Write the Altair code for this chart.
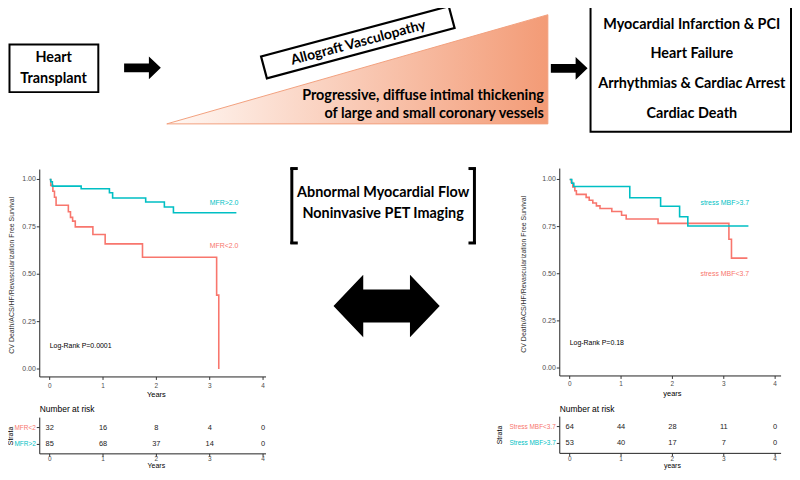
import altair as alt
import pandas as pd

# ---------------- data ----------------
# Left panel: MFR
left_low_t = [0, 0.02, 0.06, 0.09, 0.12, 0.35, 0.39, 0.43, 0.48, 0.81, 1.04, 1.74, 3.13, 3.17]
left_low_s = [1.0, 0.969, 0.938, 0.906, 0.864, 0.83, 0.80, 0.78, 0.75, 0.71, 0.66, 0.59, 0.39, 0.0]
left_high_t = [0, 0.02, 0.05, 0.59, 1.12, 1.18, 1.80, 2.15, 2.32, 3.5]
left_high_s = [1.0, 0.988, 0.965, 0.951, 0.93, 0.902, 0.881, 0.855, 0.824, 0.824]
# Right panel: stress MBF
right_low_t = [0, 0.03, 0.06, 0.10, 0.13, 0.32, 0.38, 0.45, 0.52, 0.59, 0.82, 1.01, 1.10, 1.72, 3.10, 3.15, 3.46]
right_low_s = [1.0, 0.984, 0.96, 0.94, 0.921, 0.905, 0.89, 0.875, 0.86, 0.846, 0.83, 0.81, 0.79, 0.767, 0.683, 0.583, 0.583]
right_high_t = [0, 0.04, 0.08, 1.17, 1.77, 2.14, 2.30, 3.48]
right_high_s = [1.0, 0.98, 0.963, 0.903, 0.858, 0.802, 0.753, 0.753]

risk_years = [0, 1, 2, 3, 4]
left_risk_low = [32, 16, 8, 4, 0]
left_risk_high = [85, 68, 37, 14, 0]
right_risk_low = [64, 44, 28, 11, 0]
right_risk_high = [53, 40, 17, 7, 0]

y_ticks = [0, 0.25, 0.5, 0.75, 1.0]
y_tick_labels = ["0.00", "0.25", "0.50", "0.75", "1.00"]
x_ticks = [0, 1, 2, 3, 4]

RED = "#F8766D"
CYAN = "#00BFC4"
FONT_TOP = "Lato"
FONT_KM = "Liberation Sans"
OFF = 8
W = 790
H = 464
DUMMY = pd.DataFrame({"d": [0]})


def px(v):
    return v - OFF


layers = []


def txt(text, x, y, size, color="black", font=FONT_TOP, weight="bold",
        align="center", baseline="middle", angle=0):
    props = dict(text=text, font=font, fontSize=size, fontWeight=weight,
                 color=color, align=align, baseline=baseline)
    if angle:
        props["angle"] = angle
    return alt.Chart(DUMMY).mark_text(**props).encode(
        x=alt.value(px(x)), y=alt.value(px(y)))


def hrule(x1, x2, y, w=1.0, color="black"):
    return alt.Chart(DUMMY).mark_rule(color=color, strokeWidth=w).encode(
        x=alt.value(px(x1)), x2=alt.value(px(x2)), y=alt.value(px(y)))


def vrule(x, y1, y2, w=1.0, color="black"):
    return alt.Chart(DUMMY).mark_rule(color=color, strokeWidth=w).encode(
        x=alt.value(px(x)), y=alt.value(px(y1)), y2=alt.value(px(y2)))


def box(x1, x2, y1, y2, w=2.0):
    return alt.Chart(DUMMY).mark_rect(fill="white", stroke="black", strokeWidth=w).encode(
        x=alt.value(px(x1)), x2=alt.value(px(x2)), y=alt.value(px(y1)), y2=alt.value(px(y2)))


def symbol(path, x, y, width, angle=0, fill="black", stroke=None, sw=0):
    props = dict(shape=path, size=width * width, filled=True, fill=fill, opacity=1)
    if stroke:
        props.update(stroke=stroke, strokeWidth=sw)
    else:
        props.update(strokeWidth=0)
    if angle:
        props["angle"] = angle
    return alt.Chart(DUMMY).mark_point(**props).encode(
        x=alt.value(px(x)), y=alt.value(px(y)))


# ---------------- top diagram ----------------
ARROW = "M -1 -0.24 L 0.35 -0.24 L 0.35 -0.62 L 1 0 L 0.35 0.62 L 0.35 0.24 L -1 0.24 Z"
DARROW = ("M -1 0 L -0.44 -0.589 L -0.44 -0.31 L 0.44 -0.31 L 0.44 -0.589 L 1 0 "
          "L 0.44 0.589 L 0.44 0.31 L -0.44 0.31 L -0.44 0.589 Z")
RBOX = "M -1 -0.116 L 1 -0.116 L 1 0.116 L -1 0.116 Z"

layers.append(box(9.5, 99, 43, 91))
layers.append(txt("Heart", 54, 57, 14.5))
layers.append(txt("Transplant", 54, 78, 14.5))
layers.append(symbol(ARROW, 143.5, 66.5, 37))

# gradient triangle
tri = pd.DataFrame({"x": [168, 552], "y": [123, 13], "y0": [123, 123]})
canvas_x = alt.Scale(domain=[OFF, OFF + W], range=[0, W])
canvas_y = alt.Scale(domain=[OFF, OFF + H], range=[0, H])
layers.append(
    alt.Chart(tri).mark_area(
        color=alt.Gradient(gradient="linear", x1=0, x2=1, y1=0, y2=0,
                           stops=[alt.GradientStop(color="#FFF8F4", offset=0),
                                  alt.GradientStop(color="#F39B76", offset=1)]),
        stroke="#F2A07E", strokeWidth=1, line=False, opacity=1,
    ).encode(
        x=alt.X("x:Q", scale=canvas_x, axis=None),
        y=alt.Y("y:Q", scale=canvas_y, axis=None),
        y2="y0:Q",
    )
)
layers.append(symbol(RBOX, 360.5, 40.75, 195.8, angle=345, fill="white", stroke="black", sw=2.2))
layers.append(txt("Allograft Vasculopathy", 361, 41.5, 14, angle=345))
layers.append(txt("Progressive, diffuse intimal thickening", 548, 95, 14.5, align="right"))
layers.append(txt("of large and small coronary vessels", 548, 113, 14.5, align="right"))
layers.append(symbol(ARROW, 573.5, 67, 37))
layers.append(box(595, 797, 3.5, 131))
for i, line in enumerate(["Myocardial Infarction & PCI", "Heart Failure",
                          "Arrhythmias & Cardiac Arrest", "Cardiac Death"]):
    layers.append(txt(line, 697, 23 + 30 * i, 14.5))

# middle: bracketed text and double arrow
layers.append(vrule(294, 167, 244, 3))
layers.append(hrule(292.5, 300, 168, 3))
layers.append(hrule(292.5, 300, 243, 3))
layers.append(vrule(478, 167, 244, 3))
layers.append(hrule(472, 479.5, 168, 3))
layers.append(hrule(472, 479.5, 243, 3))
layers.append(txt("Abnormal Myocardial Flow", 386, 193, 14.5))
layers.append(txt("Noninvasive PET Imaging", 386, 214, 14.5))
layers.append(symbol(DARROW, 389.5, 306.5, 107))


# ---------------- KM panels ----------------
def km_panel(P):
    xs = alt.Scale(domain=[0, 4], range=[px(P["x0"]), px(P["x4"])])
    ys = alt.Scale(domain=[0, 1], range=[px(P["y0"]), px(P["y1"])])
    out = []
    ax, top, bot, right = P["ax"], P["top"], P["bot"], P["right"]
    # axis lines
    out.append(vrule(ax, top, bot, 1.0, "#222222"))
    out.append(hrule(ax, right, bot, 1.0, "#222222"))
    yt = pd.DataFrame({"v": y_ticks, "lab": y_tick_labels})
    out.append(alt.Chart(yt).mark_rule(color="#333333", strokeWidth=1).encode(
        y=alt.Y("v:Q", scale=ys, axis=None), x=alt.value(px(ax - 3)), x2=alt.value(px(ax))))
    out.append(alt.Chart(yt).mark_text(align="right", baseline="middle", font=FONT_KM,
                                       fontSize=7, color="#4D4D4D").encode(
        y=alt.Y("v:Q", scale=ys, axis=None), x=alt.value(px(ax - 4)), text="lab:N"))
    xt = pd.DataFrame({"v": x_ticks})
    for (b, lab_y, title_y, title, fs) in [(bot, P["xlab"], P["xtitle"], P["title"], 7.5),
                                           (P["rbot"], P["rxlab"], P["rxtitle"], P["title"], 7)]:
        out.append(alt.Chart(xt).mark_rule(color="#333333", strokeWidth=1).encode(
            x=alt.X("v:Q", scale=xs, axis=None), y=alt.value(px(b)), y2=alt.value(px(b + 3))))
        out.append(alt.Chart(xt).mark_text(baseline="middle", font=FONT_KM, fontSize=6.5,
                                           color="#4D4D4D").encode(
            x=alt.X("v:Q", scale=xs, axis=None), y=alt.value(px(lab_y)), text="v:Q"))
        out.append(txt(title, (P["x0"] + P["x4"]) / 2, title_y, fs, font=FONT_KM,
                       weight="normal"))
    out.append(txt(P["ytitle"], P["ytx"], (top + bot) / 2 + 2, 7, font=FONT_KM,
                   weight="normal", angle=270, color="#333333"))
    # curves
    for t, s, col in [(P["low_t"], P["low_s"], RED), (P["high_t"], P["high_s"], CYAN)]:
        df = pd.DataFrame({"t": t, "s": s})
        out.append(alt.Chart(df).mark_line(interpolate="step-after", color=col,
                                           strokeWidth=1.6).encode(
            x=alt.X("t:Q", scale=xs, axis=None), y=alt.Y("s:Q", scale=ys, axis=None)))
    # labels within plot
    lab = pd.DataFrame({"t": [P["lab_t"], P["lab_t"], 0],
                        "s": [P["lab_high_s"], P["lab_low_s"], P["lr_s"]],
                        "txt": [P["lab_high"], P["lab_low"], P["logrank"]],
                        "c": [CYAN, RED, "black"],
                        "a": ["center", "center", "left"]})
    for i in range(3):
        out.append(alt.Chart(lab.iloc[[i]]).mark_text(
            font=FONT_KM, fontSize=7, color=lab.c[i], align=lab.a[i], baseline="middle").encode(
            x=alt.X("t:Q", scale=xs, axis=None), y=alt.Y("s:Q", scale=ys, axis=None),
            text="txt:N"))
    # risk table
    rtop, rbot = P["rtop"], P["rbot"]
    out.append(txt("Number at risk", ax, P["nar_y"], 8.5, font=FONT_KM, weight="normal",
                   align="left"))
    out.append(vrule(ax, rtop, rbot, 1.0, "#222222"))
    out.append(hrule(ax, right, rbot, 1.0, "#222222"))
    for vals, ry, name, col in [(P["risk_low"], P["row1"], P["strata_low"], RED),
                                (P["risk_high"], P["row2"], P["strata_high"], CYAN)]:
        df = pd.DataFrame({"t": risk_years, "n": vals})
        out.append(alt.Chart(df).mark_text(font=FONT_KM, fontSize=7.5, color="#222222",
                                           baseline="middle").encode(
            x=alt.X("t:Q", scale=xs, axis=None), y=alt.value(px(ry)), text="n:Q"))
        out.append(hrule(ax - 3, ax, ry, 1.0, "#333333"))
        out.append(txt(name, ax - 4, ry, 6.5, color=col, font=FONT_KM, weight="normal",
                       align="right"))
    out.append(txt("Strata", P["stx"], (P["row1"] + P["row2"]) / 2, 7, font=FONT_KM,
                   weight="normal", angle=270))
    return out


LEFT = dict(x0=50, x4=265, y0=370, y1=179, ax=40, top=169, bot=378, right=268,
            xlab=387, xtitle=396, title="Years", ytx=12,
            ytitle="CV Death/ACS/HF/Revascularization Free Survival",
            low_t=left_low_t, low_s=left_low_s, high_t=left_high_t, high_s=left_high_s,
            lab_t=3.27, lab_high_s=0.876, lab_low_s=0.65, lab_high="MFR>2.0",
            lab_low="MFR<2.0", lr_s=0.12, logrank="Log-Rank P=0.0001",
            nar_y=410, rtop=419, rbot=455.5, rxlab=461, rxtitle=468,
            row1=429, row2=446, risk_low=left_risk_low, risk_high=left_risk_high,
            strata_low="MFR<2", strata_high="MFR>2", stx=11.5)
RIGHT = dict(x0=574, x4=781, y0=369, y1=179, ax=564, top=168, bot=377, right=787,
             xlab=385, xtitle=395, title="years", ytx=528,
             ytitle="CV Death/ACS/HF/Revascularization Free Survival",
             low_t=right_low_t, low_s=right_low_s, high_t=right_high_t, high_s=right_high_s,
             lab_t=3.02, lab_high_s=0.876, lab_low_s=0.50, lab_high="stress MBF>3.7",
             lab_low="stress MBF<3.7", lr_s=0.133, logrank="Log-Rank P=0.18",
             nar_y=410, rtop=418, rbot=455, rxlab=460.5, rxtitle=467.5,
             row1=428, row2=445, risk_low=right_risk_low, risk_high=right_risk_high,
             strata_low="Stress MBF<3.7", strata_high="Stress MBF>3.7", stx=504)

layers += km_panel(LEFT)
layers += km_panel(RIGHT)

chart = alt.layer(*layers).resolve_scale(x="independent", y="independent").properties(
    width=W, height=H, padding=0,
    autosize=alt.AutoSizeParams(type="none"),
).configure_view(stroke=None)

chart.save("out.html", embed_options={"renderer": "svg", "actions": False})
